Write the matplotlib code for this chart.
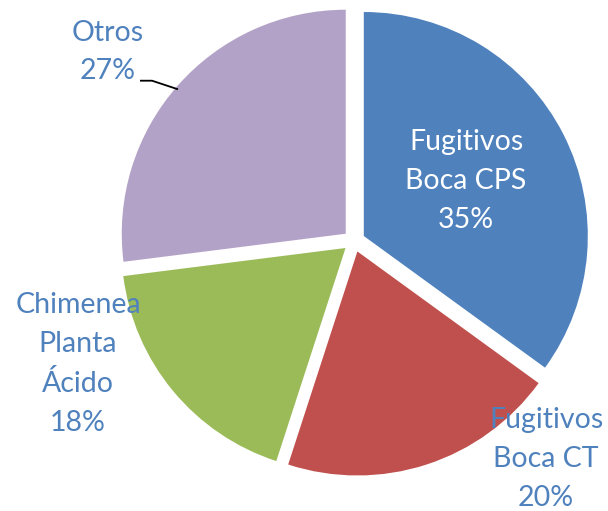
import matplotlib
matplotlib.use("Agg")
import matplotlib.pyplot as plt

labels = ["Fugitivos\nBoca CPS", "Fugitivos\nBoca CT", "Chimenea\nPlanta\nÁcido", "Otros"]
values = [35, 20, 18, 27]
colors = ["#4F81BD", "#C0504D", "#9BBB59", "#B3A2C7"]
text_colors = ["white", "#4F81BD", "#4F81BD", "#4F81BD"]
# label centres (pixel coords, y measured from top)
label_pos = [(466, 181), (546, 459), (78, 364), (108, 52)]

W, H = 608, 511
fig = plt.figure(figsize=(W / 100, H / 100), dpi=100)
ax = fig.add_axes([0, 0, 1, 1])

cx, cy, r = 354, H - 241, 224
ax.pie(values, colors=colors, startangle=90, counterclock=False,
       explode=[11] * len(values), center=(cx, cy), radius=r,
       wedgeprops=dict(linewidth=0), frame=True)
ax.set_xlim(0, W)
ax.set_ylim(0, H)
ax.set_aspect("equal")
ax.axis("off")

for lab, v, tc, (x, y) in zip(labels, values, text_colors, label_pos):
    ax.text(x, H - y, f"{lab}\n{v}%", ha="center", va="center", color=tc,
            fontsize=20.5, family=["Lato", "DejaVu Sans"], linespacing=1.6)

# leader line for "Otros"
ax.plot([140, 152, 178], [H - 80.7, H - 80.7, H - 89.3], color="black", lw=1.3,
        solid_capstyle="butt")

fig.savefig("out.png", dpi=100)
